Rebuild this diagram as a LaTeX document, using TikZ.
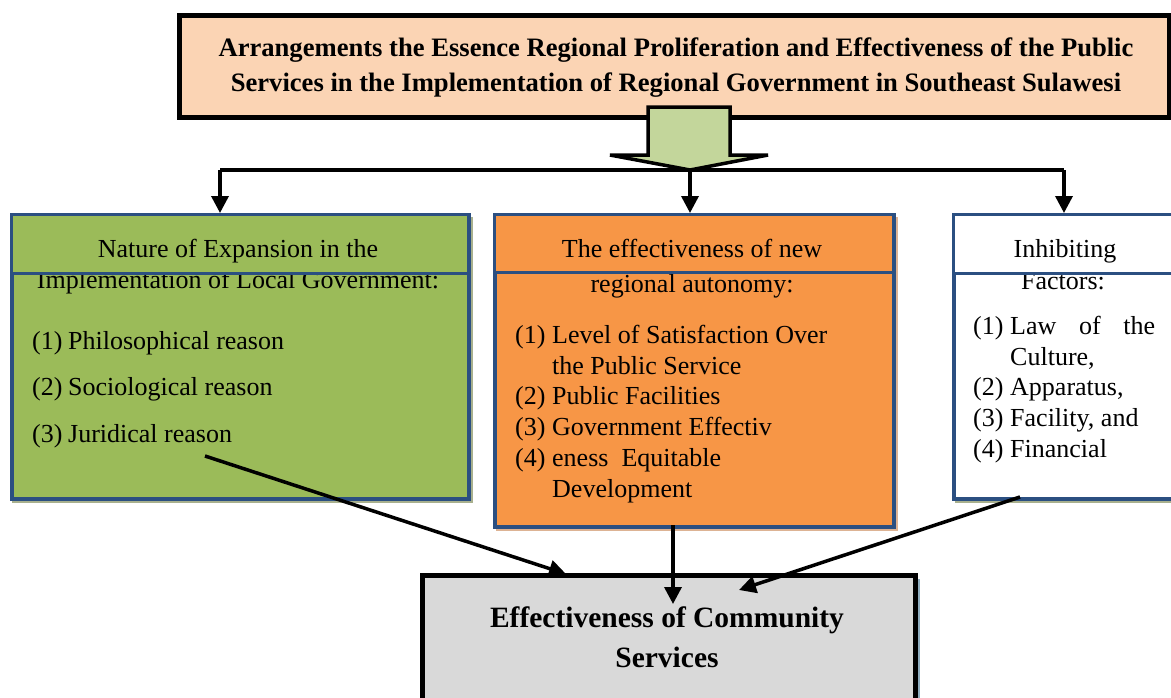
\documentclass[tikz,border=0pt]{standalone}
\usepackage{fontspec}
\setmainfont{Liberation Serif}
\usetikzlibrary{arrows.meta}
\definecolor{bblue}{HTML}{2B4F81}
\definecolor{gfill}{HTML}{9BBB59}
\definecolor{ofill}{HTML}{F79646}
\definecolor{pfill}{HTML}{FBD4B4}
\definecolor{afill}{HTML}{C3D69B}
\definecolor{grfill}{HTML}{D9D9D9}
\definecolor{gshadow}{HTML}{A8B08E}
\definecolor{oshadow}{HTML}{DDB394}
\definecolor{bshadow}{HTML}{8FADBE}
\tikzset{
  outer/.style={line width=4pt, draw=bblue, inner sep=0pt, anchor=north west},
  header/.style={line width=3pt, draw=bblue, inner sep=0pt, anchor=north west},
  arr/.style={line width=3.5pt, line join=miter, -{Triangle[length=17pt,width=17pt]}},
  body/.style={font=\fontsize{26}{31}\selectfont, inner sep=0pt, anchor=base west},
  ctr/.style={font=\fontsize{26}{31}\selectfont, inner sep=0pt, anchor=base},
}
\newcommand{\itm}[2]{\makebox[#1][l]{#2}}
\begin{document}
\begin{tikzpicture}[x=1pt,y=-1pt]
\useasboundingbox (0,0) rectangle (1171,697);
\clip (0,0) rectangle (1171,697);
% top box
\node[draw=black, line width=4.5pt, fill=pfill, minimum width=990pt, minimum height=102pt, inner sep=0pt, anchor=north west] (top) at (177,13) {};
\node[font=\fontsize{26.6}{35}\selectfont\bfseries, align=center, inner sep=0pt] (toptext) at (676,68) {Arrangements the Essence Regional Proliferation and Effectiveness of the Public\\Services in the Implementation of Regional Government in Southeast Sulawesi};
% block arrow
\draw[line width=3.5pt, line join=miter, fill=afill] (648,107) -- (730,107) -- (730,155) -- (768,155) -- (690,170) -- (610,155) -- (648,155) -- cycle;
\coordinate (hub) at (690,170);
\coordinate (jl) at (220,170);
\coordinate (jr) at (1064,170);
% left box
\fill[gshadow] (12,217) rectangle (473,503);
\node[outer, fill=gfill, minimum width=457pt, minimum height=284pt] (leftbox) at (10,213) {};
\node[ctr] (l2) at (238,288) {Implementation of Local Government:};
\node[body] (l3) at (32,349) {\itm{36pt}{(1)}Philosophical reason};
\node[body] (l4) at (32,395) {\itm{36pt}{(2)}Sociological reason};
\node[body] (l5) at (32,442) {\itm{36pt}{(3)}Juridical reason};
\node[header, fill=gfill, minimum width=457pt, minimum height=59pt] (lefthead) at (10,213) {};
\node[ctr] (l1) at (238,257) {Nature of Expansion in the};
% middle box
\fill[oshadow] (496,217) rectangle (898,531);
\node[outer, fill=ofill, minimum width=399pt, minimum height=312pt] (midbox) at (493,213) {};
\node[ctr] (m2) at (692,292) {regional autonomy:};
\node[body] (m3) at (515,343) {\itm{37pt}{(1)}Level of Satisfaction Over};
\node[body] (m4) at (515,374) {\itm{37pt}{}the Public Service};
\node[body] (m5) at (515,404) {\itm{37pt}{(2)}Public Facilities};
\node[body] (m6) at (515,435) {\itm{37pt}{(3)}Government Effectiv};
\node[body] (m7) at (515,466) {\itm{37pt}{(4)}eness\ \ Equitable};
\node[body] (m8) at (515,497) {\itm{37pt}{}Development};
\node[header, fill=ofill, minimum width=399pt, minimum height=58pt] (midhead) at (493,213) {};
\node[ctr] (m1) at (692,257) {The effectiveness of new};
% right box
\fill[gshadow] (955,217) rectangle (1200,503);
\node[outer, fill=white, minimum width=240pt, minimum height=284pt] (rightbox) at (952,213) {};
\node[ctr] (r2) at (1063,289) {Factors:};
\node[body] (r3) at (973,334) {\itm{37pt}{(1)}\makebox[145pt][s]{Law\hfill of\hfill the}};
\node[body] (r4) at (973,365) {\itm{37pt}{}Culture,};
\node[body] (r5) at (973,395) {\itm{37pt}{(2)}Apparatus,};
\node[body] (r6) at (973,426) {\itm{37pt}{(3)}Facility, and};
\node[body] (r7) at (973,457) {\itm{37pt}{(4)}Financial};
\node[header, fill=white, minimum width=240pt, minimum height=59pt] (righthead) at (952,213) {};
\node[ctr] (r1) at (1065,257) {Inhibiting};
% bottom box
\fill[bshadow] (420,579) rectangle (920,720);
\node[draw=black, line width=4.5pt, fill=grfill, minimum width=493pt, minimum height=150pt, inner sep=0pt, anchor=north west] (bottom) at (420,573) {};
\node[font=\fontsize{29.5}{40}\selectfont\bfseries, align=center, inner sep=0pt] (bottext) at (667,637) {Effectiveness of Community\\Services};
% top connectors
\draw[line width=3.5pt] (jl) -- (jr);
\draw[arr] (hub) -- (hub |- midbox.north);
\draw[arr] (jl) -- (jl |- leftbox.north);
\draw[arr] (jr) -- (jr |- rightbox.north);
% bottom connectors
\coordinate (ls) at (205,456);
\coordinate (le) at (566,574);
\coordinate (ms) at (673,525);
\coordinate (me) at (673,604);
\coordinate (rs) at (1020,497);
\coordinate (re) at (739,590);
\draw[arr] (ls) -- (le);
\draw[arr] (ms) -- (me);
\draw[arr] (rs) -- (re);
\end{tikzpicture}
\end{document}
